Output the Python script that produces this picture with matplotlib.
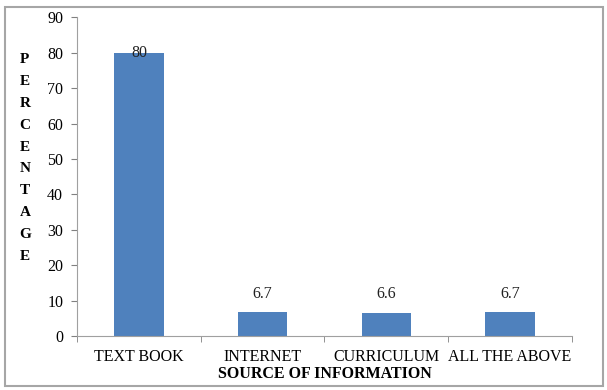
import matplotlib
matplotlib.use("Agg")
import matplotlib.pyplot as plt
from matplotlib.patches import Rectangle

categories = ["TEXT BOOK", "INTERNET", "CURRICULUM", "ALL THE ABOVE"]
values = [80, 6.7, 6.6, 6.7]
value_labels = ["80", "6.7", "6.6", "6.7"]
y_ticks = [0, 10, 20, 30, 40, 50, 60, 70, 80, 90]

plt.rcParams["font.family"] = ["Liberation Serif", "DejaVu Serif"]

fig = plt.figure(figsize=(6.07, 3.90), dpi=100)
ax = fig.add_axes([0.127, 0.138, 0.815, 0.818])

# outer chart frame
fig.patches.append(Rectangle((0.008, 0.010), 0.985, 0.973, transform=fig.transFigure,
                             fill=False, edgecolor="#a6a6a6", linewidth=1.5))

x = list(range(len(categories)))
bars = ax.bar(x, values, width=0.4, color="#4f81bd")

for xi, v, lab in zip(x, values, value_labels):
    if v > 50:
        ax.text(xi, v, lab, ha="center", va="center", fontsize=11.5, color="#222222")
    else:
        ax.text(xi, v + 3, lab, ha="center", va="bottom", fontsize=11.5, color="#222222")

ax.set_xlim(-0.5, len(categories) - 0.5)
ax.set_ylim(0, 90)
ax.set_yticks(y_ticks)
ax.set_xticks(x)
ax.set_xticklabels(categories, fontsize=11.5)
ax.tick_params(axis="y", labelsize=11.5, length=4, color="#808080", pad=6)
ax.tick_params(axis="x", length=0, pad=9)
# category boundary ticks on the x axis
ax.set_xticks([i - 0.5 for i in range(len(categories) + 1)], minor=True)
ax.tick_params(axis="x", which="minor", length=4, color="#808080", direction="out")

for side in ["top", "right"]:
    ax.spines[side].set_visible(False)
for side in ["left", "bottom"]:
    ax.spines[side].set_color("#a0a0a0")

ax.set_xlabel("SOURCE OF INFORMATION", fontsize=11.5, fontweight="bold", labelpad=1)
fig.text(0.041, 0.595, "\n".join("PERCENTAGE"), ha="center", va="center",
         fontsize=11, fontweight="bold", linespacing=1.88)

fig.savefig("out.png", dpi=100)
